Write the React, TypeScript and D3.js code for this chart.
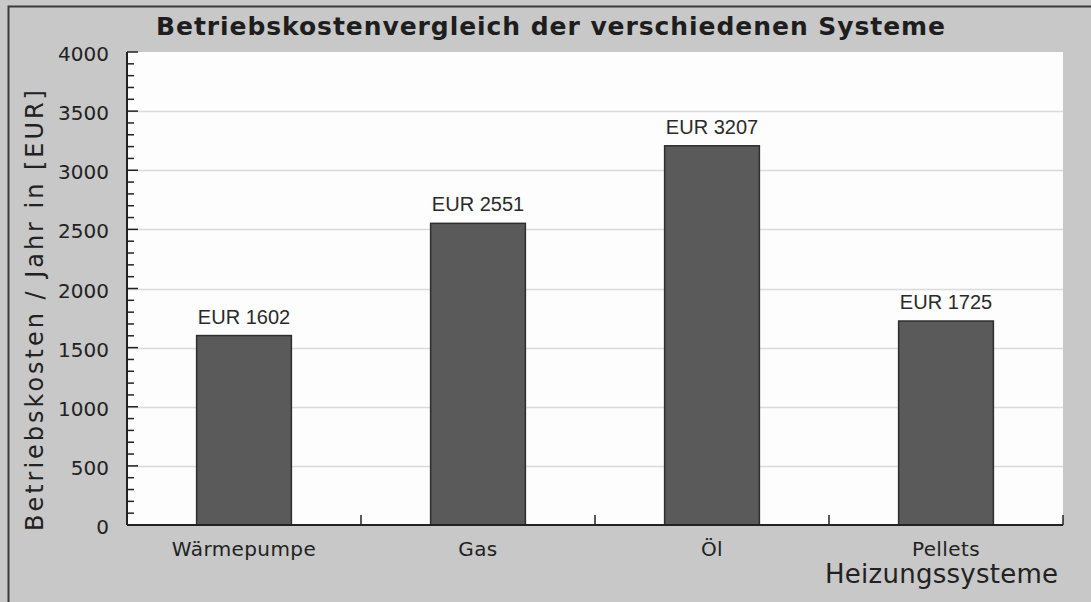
import { useEffect, useRef } from "react"
import * as d3 from "d3"

// chart data
const categories = ["Wärmepumpe", "Gas", "Öl", "Pellets"]
const costs = [1602, 2551, 3207, 1725]
const yTicks = [0, 500, 1000, 1500, 2000, 2500, 3000, 3500, 4000]

const title = "Betriebskostenvergleich der verschiedenen Systeme"
const yTitle = "Betriebskosten / Jahr in [EUR]"
const xTitle = "Heizungssysteme"

export default function App() {
  const svgRef = useRef<SVGSVGElement>(null)

  useEffect(() => {
    if (!svgRef.current) return
    const svg = d3.select(svgRef.current)
    svg.selectAll("*").remove()

    const W = 1091
    const H = 602
    const margin = { top: 52, right: 28, bottom: 77, left: 127 }
    const font = "DejaVu Sans, sans-serif"

    // background + frame
    svg.append("rect").attr("width", W).attr("height", H).attr("fill", "#c8c8c8")
    svg
      .append("rect")
      .attr("x", 8.5)
      .attr("y", 6.5)
      .attr("width", W + 20)
      .attr("height", H + 20)
      .attr("fill", "none")
      .attr("stroke", "#3a3a3a")
      .attr("stroke-width", 2)

    const x = d3
      .scaleBand<string>()
      .domain(categories)
      .range([margin.left, W - margin.right])

    const y = d3
      .scaleLinear()
      .domain([0, 4000])
      .range([H - margin.bottom, margin.top])

    // plot area
    svg
      .append("rect")
      .attr("x", margin.left)
      .attr("y", margin.top)
      .attr("width", W - margin.left - margin.right)
      .attr("height", H - margin.top - margin.bottom)
      .attr("fill", "#fdfdfd")

    // grid lines
    svg
      .append("g")
      .selectAll("line")
      .data(yTicks.filter((t) => t > 0 && t < 4000))
      .enter()
      .append("line")
      .attr("x1", margin.left)
      .attr("x2", W - margin.right)
      .attr("y1", (d) => Math.round(y(d)) + 0.5)
      .attr("y2", (d) => Math.round(y(d)) + 0.5)
      .attr("stroke", "#dadada")
      .attr("stroke-width", 1.5)

    // bars
    const barW = x.bandwidth() * 0.405
    svg
      .append("g")
      .selectAll("rect")
      .data(categories)
      .enter()
      .append("rect")
      .attr("x", (d) => x(d)! + x.bandwidth() / 2 - barW / 2)
      .attr("y", (d, i) => y(costs[i]))
      .attr("width", barW)
      .attr("height", (d, i) => y(0) - y(costs[i]))
      .attr("fill", "#5a5a5a")
      .attr("stroke", "#2e2e2e")
      .attr("stroke-width", 1.5)

    // value labels
    svg
      .append("g")
      .selectAll("text")
      .data(categories)
      .enter()
      .append("text")
      .attr("x", (d) => x(d)! + x.bandwidth() / 2)
      .attr("y", (d, i) => y(costs[i]) - 12)
      .attr("text-anchor", "middle")
      .attr("font-family", "Liberation Sans, Arial, sans-serif")
      .attr("font-size", 20)
      .attr("fill", "#2a2a2a")
      .text((d, i) => `EUR ${costs[i]}`)

    // y axis with inward ticks
    const yAxis = svg.append("g").attr("transform", `translate(${margin.left},0)`)
    yAxis
      .append("line")
      .attr("x1", 0)
      .attr("x2", 0)
      .attr("y1", y(4000))
      .attr("y2", y(0))
      .attr("stroke", "#222")
      .attr("stroke-width", 2)
    yAxis
      .selectAll("line.minor")
      .data(d3.range(0, 4001, 100))
      .enter()
      .append("line")
      .attr("class", "minor")
      .attr("x1", 0)
      .attr("x2", (d) => (d % 500 === 0 ? 11 : 7))
      .attr("y1", (d) => y(d))
      .attr("y2", (d) => y(d))
      .attr("stroke", "#222")
      .attr("stroke-width", 1.5)
    yAxis
      .selectAll("text")
      .data(yTicks)
      .enter()
      .append("text")
      .attr("x", -18)
      .attr("y", (d) => y(d) + 9)
      .attr("text-anchor", "end")
      .attr("font-family", font)
      .attr("font-size", 20)
      .attr("fill", "#222")
      .text((d) => d)

    // x axis
    const xAxis = svg.append("g")
    xAxis
      .append("line")
      .attr("x1", margin.left)
      .attr("x2", W - margin.right)
      .attr("y1", y(0))
      .attr("y2", y(0))
      .attr("stroke", "#222")
      .attr("stroke-width", 2)
    xAxis
      .selectAll("line.tick")
      .data(categories)
      .enter()
      .append("line")
      .attr("class", "tick")
      .attr("x1", (d) => x(d)! + x.bandwidth())
      .attr("x2", (d) => x(d)! + x.bandwidth())
      .attr("y1", y(0))
      .attr("y2", y(0) - 10)
      .attr("stroke", "#222")
      .attr("stroke-width", 1.5)
    xAxis
      .selectAll("text")
      .data(categories)
      .enter()
      .append("text")
      .attr("x", (d) => x(d)! + x.bandwidth() / 2)
      .attr("y", y(0) + 31)
      .attr("text-anchor", "middle")
      .attr("font-family", font)
      .attr("font-size", 20)
      .attr("letter-spacing", 0.4)
      .attr("fill", "#222")
      .text((d) => d)

    // titles
    svg
      .append("text")
      .attr("x", 156)
      .attr("y", 35)
      .attr("font-family", font)
      .attr("font-weight", "bold")
      .attr("font-size", 25)
      .attr("textLength", 789)
      .attr("lengthAdjust", "spacing")
      .attr("fill", "#1e1e1e")
      .text(title)

    svg
      .append("text")
      .attr("x", 825)
      .attr("y", 583)
      .attr("font-family", font)
      .attr("font-size", 26)
      .attr("textLength", 233)
      .attr("lengthAdjust", "spacing")
      .attr("fill", "#222")
      .text(xTitle)

    svg
      .append("text")
      .attr("transform", `translate(43,531) rotate(-90)`)
      .attr("font-family", font)
      .attr("font-size", 24)
      .attr("textLength", 441)
      .attr("lengthAdjust", "spacing")
      .attr("fill", "#222")
      .text(yTitle)
  }, [])

  return (
    <div style={{ position: "absolute", left: 0, top: 0 }}>
      <svg ref={svgRef} width={1091} height={602} style={{ display: "block" }}></svg>
    </div>
  )
}
